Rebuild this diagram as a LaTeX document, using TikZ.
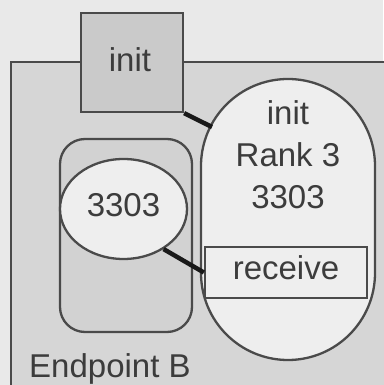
\documentclass[tikz,border=0pt]{standalone}
\usepackage{fontspec}
\setmainfont{Liberation Sans}
\usetikzlibrary{shapes.geometric}
\definecolor{bg}{HTML}{E9E9E9}
\definecolor{panel}{HTML}{D6D6D6}
\definecolor{initfill}{HTML}{CACACA}
\definecolor{light}{HTML}{EEEEEE}
\definecolor{eprect}{HTML}{D2D2D2}
\definecolor{edge}{HTML}{4A4A4A}
\definecolor{txt}{HTML}{3C3C3C}
\tikzset{
  shapebox/.style={draw=edge, line width=2.3pt, inner sep=0pt},
  lbl/.style={text=txt, font=\fontsize{33}{38}\selectfont, inner sep=0pt, anchor=base},
  link/.style={draw=black!90, line width=4.5pt},
}
\begin{document}
\begin{tikzpicture}[x=1pt,y=1pt]
\useasboundingbox (0,0) rectangle (383,385);
\fill[bg] (0,0) rectangle (383,385);
% outer panel
\draw[shapebox, fill=panel] (11,-5) rectangle (395,323);
% init box
\node[shapebox, fill=initfill, minimum width=102pt, minimum height=99pt] (initbox) at (132,322.5) {};
\node[lbl] (inittxt) at (130,313) {init};
% capsule
\node[shapebox, fill=light, rounded corners=87pt, minimum width=174pt, minimum height=281pt] (cap) at (288,165.5) {};
\node[lbl] (capinit) at (288,260) {init};
\node[lbl] (rank) at (288,218) {Rank 3};
\node[lbl] (capnum) at (288,176) {3303};
% left rounded rect
\node[shapebox, fill=eprect, rounded corners=25pt, minimum width=132pt, minimum height=193pt] (ep) at (126,149.5) {};
\node[shapebox, ellipse, fill=light, minimum width=127pt, minimum height=100pt] (ell) at (123.5,176) {};
\node[lbl] (ellnum) at (123.5,168) {3303};
% receive box
\node[shapebox, fill=light, minimum width=162pt, minimum height=51pt] (rec) at (286,112.5) {};
\node[lbl] (rectxt) at (286,105) {receive};
% label
\node[lbl, anchor=base west] (epB) at (29,8) {Endpoint B};
% connectors
\coordinate (capjoin) at (212,258);
\draw[link] (initbox.south east) -- (capjoin);
\draw[link] (ell.-45) -- (rec.west);
\end{tikzpicture}
\end{document}
